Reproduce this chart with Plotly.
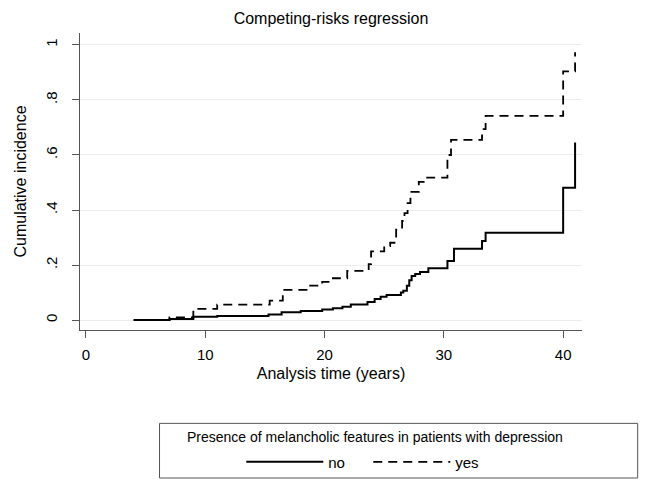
import plotly.graph_objects as go

# Step data: time at which level changes, cumulative incidence after the step
no_time = [4, 7, 9, 11, 15.3, 16.4, 18, 19.8, 20.7, 21.5, 22.2, 23.6, 24.2, 24.7, 25.2,
           26.4, 26.6, 26.9, 27.1, 27.3, 27.6, 28.0, 28.7, 30.3, 30.85, 33.2, 33.5, 40, 41]
no_ci = [0.0, 0.004, 0.012, 0.015, 0.020, 0.028, 0.033, 0.038, 0.043, 0.048, 0.057, 0.066,
         0.077, 0.085, 0.091, 0.100, 0.107, 0.125, 0.145, 0.160, 0.167, 0.175, 0.188, 0.215,
         0.259, 0.287, 0.317, 0.481, 0.645]

yes_time = [4, 7, 9, 11, 15.4, 16.5, 18.6, 19.8, 20.7, 21.9, 23.7, 23.9, 25.0, 25.5, 26.0,
            26.5, 26.7, 26.96, 27.2, 27.9, 28.6, 30.3, 30.6, 33.2, 33.5, 40, 41]
yes_ci = [0.0, 0.010, 0.041, 0.056, 0.071, 0.110, 0.125, 0.139, 0.152, 0.179, 0.203, 0.250,
          0.269, 0.281, 0.329, 0.360, 0.389, 0.425, 0.466, 0.502, 0.518, 0.600, 0.655, 0.694,
          0.742, 0.904, 0.973]

x_ticks = [0, 10, 20, 30, 40]
y_ticks = [0, 0.2, 0.4, 0.6, 0.8, 1]
y_tick_labels = ["0", ".2", ".4", ".6", ".8", "1"]
legend_title = "Presence of melancholic features in patients with depression"

FONT = "Liberation Sans, Arial, Helvetica, sans-serif"
W, H = 659, 482
L, R, T, B = 69, 85, 25, 158
pw = W - L - R
ph = H - T - B


def px_x(px):
    return (px - L) / pw


def px_y(py):
    return (H - B - py) / ph


fig = go.Figure()
fig.add_trace(go.Scatter(x=no_time, y=no_ci, mode="lines", name="no",
                         line=dict(color="black", width=2, shape="hv")))
fig.add_trace(go.Scatter(x=yes_time, y=yes_ci, mode="lines", name="yes",
                         line=dict(color="black", width=1.8, shape="hv", dash="9px,6px")))

# legend frame and legend heading
fig.add_shape(type="rect", xref="paper", yref="paper",
              x0=px_x(149), x1=px_x(630), y0=px_y(473), y1=px_y(418),
              line=dict(color="#555", width=1), fillcolor="rgba(0,0,0,0)", layer="above")
fig.add_annotation(text=legend_title, xref="paper", yref="paper",
                   x=px_x(366), y=px_y(432), xanchor="center", yanchor="middle",
                   showarrow=False, font=dict(size=14, family=FONT, color="black"))

fig.update_layout(
    width=W, height=H,
    margin=dict(l=L, r=R, t=T, b=B),
    paper_bgcolor="white", plot_bgcolor="white",
    font=dict(family=FONT, color="black", size=14),
    title=dict(text="Competing-risks regression", x=0.5, xref="paper",
               y=1 - 10.5 / H, yref="container", yanchor="middle",
               font=dict(size=16, family=FONT, color="black")),
    xaxis=dict(range=[-0.5, 41.58], tickvals=x_ticks, ticks="outside", ticklen=7,
               tickcolor="#555", showline=True, linecolor="#555", linewidth=1,
               showgrid=False, zeroline=False, tickfont=dict(size=15),
               ticklabelstandoff=4,
               title=dict(text="Analysis time (years)", font=dict(size=16), standoff=5)),
    yaxis=dict(range=[-0.0361, 1.0433], tickvals=y_ticks, ticktext=y_tick_labels,
               ticks="outside", ticklen=7, tickcolor="#555", tickangle=-90,
               ticklabelstandoff=9,
               showline=True, linecolor="#555", linewidth=1,
               showgrid=True, gridcolor="#ececec", gridwidth=1, zeroline=False,
               tickfont=dict(size=15),
               title=dict(text="Cumulative incidence", font=dict(size=16), standoff=12)),
    showlegend=True,
    legend=dict(orientation="h", x=px_x(359), xanchor="center", xref="paper",
                y=px_y(457), yanchor="middle", borderwidth=0,
                bgcolor="rgba(0,0,0,0)", font=dict(size=15),
                itemwidth=77, entrywidth=35, tracegroupgap=0),
)

fig.write_html("out.html")
